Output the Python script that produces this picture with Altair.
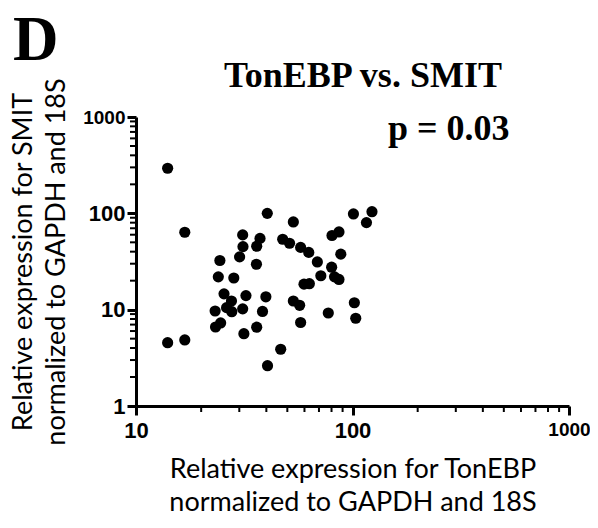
import altair as alt
import pandas as pd

# TonEBP (x) and SMIT (y) relative expression
tonebp = [14.0, 16.8, 14.0, 16.8, 40.4, 53.3, 31.1, 31.2, 30.1, 24.4,
          37.4, 36.1, 36.0, 47.6, 51.2, 57.6, 62.8, 68.8, 80.4, 86.6,
          88.3, 80.1, 71.4, 82.6, 86.6, 24.0, 28.3, 101, 123, 116,
          53.3, 57.0, 77.3, 102, 103.5, 57.6, 46.6, 40.5, 38.4, 36.1,
          25.5, 27.6, 32.2, 39.8, 23.2, 26.2, 27.7, 31.1, 23.3, 24.6,
          31.5, 59.7, 63.2]
smit = [294, 63.6, 4.54, 4.85, 100, 81.4, 59.7, 45.1, 35.3, 32.4,
        54.9, 45.5, 29.6, 53.8, 48.9, 44.3, 39.3, 31.3, 58.9, 64.1,
        37.7, 27.6, 22.5, 21.9, 20.6, 21.9, 21.3, 98.6, 104, 80.1,
        12.3, 11.1, 9.24, 11.8, 8.14, 7.36, 3.88, 2.62, 9.58, 6.58,
        14.6, 12.3, 14.0, 13.6, 9.69, 10.5, 9.53, 10.2, 6.61, 7.28,
        5.63, 18.4, 18.6]

x_major = [10, 100, 1000]
x_minor = [20, 30, 40, 50, 60, 70, 80, 90, 200, 300, 400, 500, 600, 700, 800, 900]
y_major = [1, 10, 100, 1000]
y_minor = [2, 3, 4, 5, 6, 7, 8, 9, 20, 30, 40, 50, 60, 70, 80, 90,
           200, 300, 400, 500, 600, 700, 800, 900]

x_title = ["Relative expression for TonEBP", "normalized to GAPDH and 18S"]
y_title = ["Relative expression for SMIT", "normalized to GAPDH and 18S"]
chart_title = ["TonEBP vs. SMIT"]
p_text = ["p = 0.03"]
panel_letter = ["D"]

df = pd.DataFrame({"TonEBP": tonebp, "SMIT": smit})

xs = alt.Scale(type="log", domain=[10, 1000], nice=False)
ys = alt.Scale(type="log", domain=[1, 1000], nice=False)

common = dict(grid=False, format="d", labelFlush=False, labelOverlap=False,
              domainColor="black", domainWidth=3, tickColor="black",
              tickWidth=3, tickSize=9, labelFont="Liberation Sans",
              labelFontWeight="bold", labelColor="black",
              titleFont="Lato", titleFontSize=27, titleFontWeight="normal",
              titleColor="black", titleLineHeight=33)

small_1000 = {"condition": {"test": "datum.value == 1000", "value": 19}, "value": 22}

x_axis = alt.Axis(values=x_major, orient="bottom", labelPadding=5,
                  labelFontSize=small_1000, title=x_title, titlePadding=15, **common)
y_axis = alt.Axis(values=y_major, orient="left", labelPadding=2,
                  labelFontSize=small_1000, title=y_title, titlePadding=12, **common)

points = alt.Chart(df).mark_circle(size=125, color="black", opacity=1).encode(
    x=alt.X("TonEBP:Q", scale=xs, axis=x_axis),
    y=alt.Y("SMIT:Q", scale=ys, axis=y_axis),
)

x_minor_ticks = alt.Chart(pd.DataFrame({"v": x_minor})).mark_rule(
    color="black", strokeWidth=2
).encode(x=alt.X("v:Q", scale=xs, axis=x_axis), y=alt.value(290), y2=alt.value(295))

y_minor_ticks = alt.Chart(pd.DataFrame({"v": y_minor})).mark_rule(
    color="black", strokeWidth=2
).encode(y=alt.Y("v:Q", scale=ys, axis=y_axis), x=alt.value(-1), x2=alt.value(-6))

title_mark = alt.Chart(pd.DataFrame({"t": chart_title})).mark_text(
    font="Liberation Serif", fontWeight="bold", fontSize=36, align="center",
    baseline="alphabetic", color="black"
).encode(text="t:N", x=alt.value(227), y=alt.value(-30))

p_mark = alt.Chart(pd.DataFrame({"t": p_text})).mark_text(
    font="Liberation Serif", fontWeight="bold", fontSize=36, align="left",
    baseline="alphabetic", color="black"
).encode(text="t:N", x=alt.value(252), y=alt.value(23))

d_mark = alt.Chart(pd.DataFrame({"t": panel_letter})).mark_text(
    font="Liberation Serif", fontWeight="bold", fontSize=63, align="left",
    baseline="alphabetic", color="black"
).encode(text="t:N", x=alt.value(-123), y=alt.value(-57))

chart = alt.layer(points, x_minor_ticks, y_minor_ticks, title_mark, p_mark, d_mark
).properties(
    width=433, height=289,
    background="white",
    autosize=alt.AutoSizeParams(type="none"),
    padding={"left": 128, "top": 109, "right": 21, "bottom": 114},
).configure_view(strokeWidth=0)

chart.save("out.html", embed_options={"renderer": "svg", "actions": False})
